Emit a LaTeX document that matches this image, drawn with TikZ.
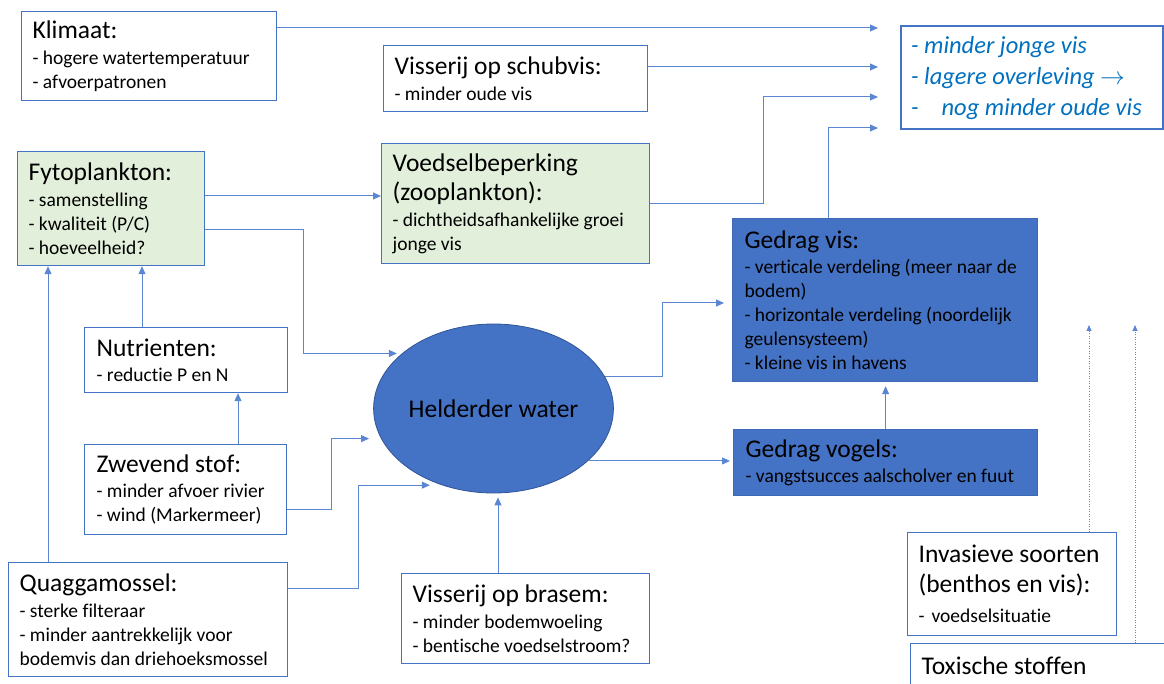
\documentclass[tikz,border=0pt]{standalone}
\usepackage{fontspec}
\setmainfont{Carlito}[Ligatures={NoCommon,NoContextual}]
\usetikzlibrary{arrows.meta,shapes.geometric}

\definecolor{boxblue}{HTML}{4472C4}
\definecolor{linkblue}{HTML}{5A86D2}
\definecolor{fillgreen}{HTML}{E2EFDA}
\definecolor{darkfill}{HTML}{4472C4}
\definecolor{ringblue}{HTML}{2F5597}
\definecolor{textblue}{HTML}{0070C0}

\newcommand{\boxhead}{\fontsize{25.5}{27}\selectfont}

\tikzset{
  infobox/.style={draw=boxblue, line width=1.2pt, fill=white, anchor=north west,
    align=flush left, inner xsep=11pt, inner ysep=0pt, font=\fontsize{19.5}{24}\selectfont,
    execute at begin node={\rightskip=0pt plus 1fil minus 30pt}},
  greenbox/.style={infobox, fill=fillgreen},
  darkbox/.style={infobox, fill=darkfill, draw=darkfill!92!black, inner xsep=12pt},
  link/.style={draw=linkblue, line width=1pt, -{Triangle[length=8pt,width=7pt]}},
  dotlink/.style={link, dash pattern=on 1pt off 1.5pt, -{Triangle[length=6pt,width=5pt]}}
}

\begin{document}
\begin{tikzpicture}[x=1pt,y=-1pt]
  \useasboundingbox (0,0) rectangle (1164,684);

  \node[infobox, text width=233pt, minimum height=89pt] (klimaat) at (21,11)
    {{\boxhead Klimaat:}\\[1.5pt]- hogere watertemperatuur\\- afvoerpatronen};
  \node[infobox, text width=242pt, minimum height=66pt] (schubvis) at (383,45)
    {{\boxhead Visserij op schubvis:}\\[1.5pt]- minder oude vis};
  \node[greenbox, text width=246pt, minimum height=120pt] (voedsel) at (381,143)
    {{\boxhead Voedselbeperking\\[5pt](zooplankton):}\\[2pt]- dichtheidsafhankelijke groei\\jonge vis};
  \node[greenbox, text width=165pt, minimum height=114pt] (fyto) at (17,151)
    {{\boxhead Fytoplankton:}\\[1.5pt]- samenstelling\\- kwaliteit (P/C)\\- hoeveelheid?};
  \node[infobox, line width=2.2pt, inner xsep=10pt, text width=242pt, minimum height=103pt,
    text=textblue, font=\fontsize{24.5}{31}\selectfont\itshape] (result) at (900,25)
    {- minder jonge vis\\- lagere overleving $\rightarrow$\\-\hspace{23pt}nog minder oude vis};
  \node[darkbox, text width=281pt, minimum height=163pt] (gedragvis) at (732,218)
    {{\boxhead Gedrag vis:}\\[1.5pt]- verticale verdeling (meer naar de\\bodem)\\- horizontale verdeling (noordelijk\\geulensysteem)\\- kleine vis in havens};
  \node[darkbox, text width=280pt, minimum height=66pt] (vogels) at (733,429)
    {{\boxhead Gedrag vogels:}\\[1.5pt]- vangstsucces aalscholver en fuut};
  \node[ellipse, draw=ringblue, line width=0.8pt, fill=darkfill, minimum width=229pt,
    minimum height=169pt, inner sep=0pt, font=\boxhead] (helder) at (493.5,408.5) {Helderder water};
  \node[infobox, inner xsep=12pt, text width=179pt, minimum height=65pt] (nutrienten) at (84,327)
    {{\boxhead Nutrienten:}\\[1.5pt]- reductie P en N};
  \node[infobox, inner xsep=12pt, text width=178pt, minimum height=90pt] (zwevend) at (84,444)
    {{\boxhead Zwevend stof:}\\[1.5pt]- minder afvoer rivier\\- wind (Markermeer)};
  \node[infobox, text width=257pt, minimum height=114pt] (quagga) at (8,562)
    {{\boxhead Quaggamossel:}\\[2pt]- sterke filteraar\\- minder aantrekkelijk voor\\bodemvis dan driehoeksmossel};
  \node[infobox, text width=226pt, minimum height=90pt] (brasem) at (401,573)
    {{\boxhead Visserij op brasem:}\\[1.5pt]- minder bodemwoeling\\- bentische voedselstroom?};
  \node[infobox, text width=187pt, minimum height=103pt] (invasief) at (907,532)
    {{\boxhead Invasieve soorten\\[6pt](benthos en vis):}\\[6pt]-\hspace{7pt}voedselsituatie};
  \node[infobox, text width=258pt, minimum height=44pt, font=\boxhead] (toxisch) at (910,643)
    {Toxische stoffen};

  \coordinate (in1) at (878,28);
  \coordinate (in2) at (878,67);
  \coordinate (in3) at (878,97);
  \coordinate (in4) at (878,128);
  \coordinate (dot1) at (1089,325);
  \coordinate (dot2) at (1135,325);
  \coordinate (j1) at (763,0);
  \coordinate (j2) at (828,0);
  \coordinate (j3) at (0,196);
  \coordinate (j4) at (303,230);
  \coordinate (j5) at (331,509);
  \coordinate (j6) at (358,588);
  \coordinate (j7) at (662,303);
  \coordinate (j8) at (498,0);
  \coordinate (j9) at (142,0);
  \coordinate (j10) at (48,0);
  \coordinate (j11) at (238,0);

  \draw[link] (klimaat.east |- in1) to (in1);
  \draw[link] (schubvis.east |- in2) to (in2);
  \draw[link] (voedsel.east) -- (voedsel.east -| j1) |- (in3);
  \draw[link] (gedragvis.north -| j2) |- (in4);
  \draw[link] (fyto.east |- j3) to (voedsel.west |- j3);
  \draw[link, shorten >=5pt] (fyto.east |- j4) -- (j4) |- (helder.149);
  \draw[link, shorten >=12pt] (zwevend.east |- j5) -- (j5) |- (helder.195);
  \draw[link, shorten >=12pt] (quagga.east |- j6) -- (j6) |- (helder.236);
  \draw[link, shorten >=4pt] (brasem.north -| j8) -- (j8 |- helder.south);
  \draw[link, shorten >=8pt] (helder.16) -| (j7) -- (gedragvis.west |- j7);
  \draw[link, shorten >=3pt] (helder.-29) -- (helder.-29 -| vogels.west);
  \draw[link, shorten >=4pt] (vogels.north) -- (vogels.north |- gedragvis.south);
  \draw[link] (nutrienten.north -| j9) -- (fyto.south -| j9);
  \draw[link] (quagga.north -| j10) -- (fyto.south -| j10);
  \draw[link] (zwevend.north -| j11) -- (nutrienten.south -| j11);
  \draw[dotlink] (invasief.north -| dot1) -- (dot1);
  \draw[dotlink] (toxisch.north -| dot2) -- (dot2);
\end{tikzpicture}
\end{document}
